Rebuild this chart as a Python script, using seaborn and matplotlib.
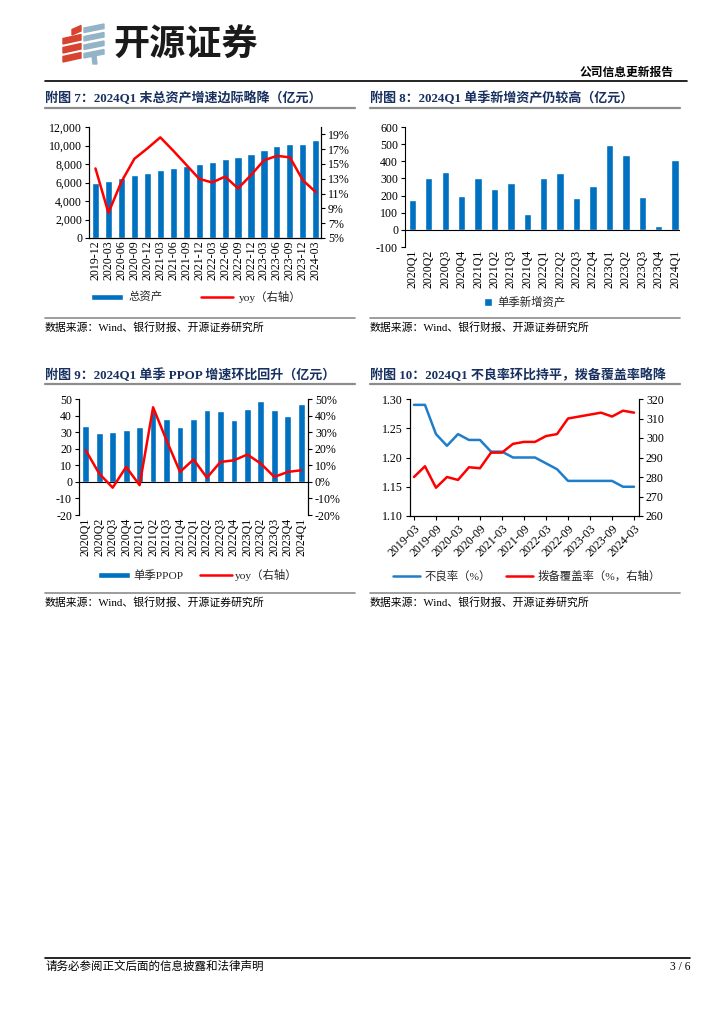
import numpy as np
import pandas as pd
import matplotlib
matplotlib.use("Agg")
import matplotlib.pyplot as plt
from matplotlib.lines import Line2D
from matplotlib.patches import Patch, Polygon
from matplotlib.ticker import FuncFormatter, MultipleLocator
import seaborn as sns

# ---------------- data ----------------
asset_dates = ["2019-12", "2020-03", "2020-06", "2020-09", "2020-12", "2021-03",
               "2021-06", "2021-09", "2021-12", "2022-03", "2022-06", "2022-09",
               "2022-12", "2023-03", "2023-06", "2023-09", "2023-12", "2024-03"]
total_assets = [6000, 6150, 6480, 6820, 7000, 7320, 7560, 7820, 7950, 8200,
                8580, 8780, 9050, 9550, 9950, 10150, 10200, 10580]
asset_yoy = [14.4, 8.4, 12.6, 15.7, 17.1, 18.6, 16.8, 14.9, 13.0, 12.5,
             13.3, 11.7, 13.5, 15.5, 16.1, 15.9, 12.8, 11.2]

quarters = ["2020Q1", "2020Q2", "2020Q3", "2020Q4", "2021Q1", "2021Q2", "2021Q3",
            "2021Q4", "2022Q1", "2022Q2", "2022Q3", "2022Q4", "2023Q1", "2023Q2",
            "2023Q3", "2023Q4", "2024Q1"]
new_assets = [175, 305, 338, 200, 305, 240, 272, 93, 302, 333, 185, 258,
              495, 438, 192, 22, 410]

ppop = [34, 29.5, 30, 31, 33.3, 43, 38, 33, 38, 43.5, 42.5, 37.5,
        44, 48.5, 43.5, 39.5, 47]
ppop_yoy = [19, 5, -3.5, 9, -2, 45, 25, 6, 13.5, 2.5, 12, 13,
            16.5, 11, 3, 6, 7]

npl_dates = ["2019-03", "2019-06", "2019-09", "2019-12", "2020-03", "2020-06",
             "2020-09", "2020-12", "2021-03", "2021-06", "2021-09", "2021-12",
             "2022-03", "2022-06", "2022-09", "2022-12", "2023-03", "2023-06",
             "2023-09", "2023-12", "2024-03"]
npl_ratio = [1.29, 1.29, 1.24, 1.22, 1.24, 1.23, 1.23, 1.21, 1.21, 1.20, 1.20,
             1.20, 1.19, 1.18, 1.16, 1.16, 1.16, 1.16, 1.16, 1.15, 1.15]
coverage = [280, 285.5, 274.5, 280, 278.5, 285, 284.5, 292.5, 292.5, 297, 298,
            298, 301, 302, 310, 311, 312, 313, 311, 314, 313]

# ---------------- style ----------------
BLUE = "#0070C0"
RED = "#FF0000"
LBLUE = "#1F7DC9"
NAVY = "#17305F"
GRAY = "#8C8C8C"

sns.set_theme(style="ticks")
plt.rcParams["font.family"] = ["Liberation Serif", "Noto Sans CJK SC"]
plt.rcParams["axes.linewidth"] = 0.8
plt.rcParams["xtick.major.width"] = 0.8
plt.rcParams["ytick.major.width"] = 0.8
plt.rcParams["axes.unicode_minus"] = False

W, H = 724, 1024
TICK_FS = 8.6
LEG_FS = 8.2
TITLE_FS = 9.4
fig = plt.figure(figsize=(W / 100, H / 100), dpi=100)


def fx(x):
    return x / W


def fy(y):
    return 1 - y / H


def rect(x0, y0, x1, y1):
    # pixel box (top-left origin) -> figure fraction
    return [fx(x0), fy(y1), fx(x1 - x0), (y1 - y0) / H]


def hline(x0, x1, y, color, lw):
    fig.add_artist(Line2D([fx(x0), fx(x1)], [fy(y), fy(y)], color=color, lw=lw,
                          transform=fig.transFigure))


def style_axis(ax):
    ax.tick_params(axis="both", labelsize=TICK_FS, colors="black", length=3, pad=2)
    for s in ax.spines.values():
        s.set_color("black")
    ax.set_xlabel("")
    ax.set_ylabel("")


def panel_frame(x0, x1, y_title, y_under, y_sep, title):
    fig.text(fx(x0), fy(y_title), title, fontsize=TITLE_FS, fontweight="bold", color=NAVY,
             va="center", ha="left")
    hline(x0, x1, y_under, GRAY, 1.6)
    hline(x0, x1, y_sep, GRAY, 1.2)
    fig.text(fx(x0), fy(y_sep + 9), "数据来源：Wind、银行财报、开源证券研究所",
             fontsize=7.8, color="black", va="center", ha="left")


# ---------------- header ----------------
for i in range(4):
    yb = 62 - i * 9
    x_left = 63 if i < 3 else 72
    poly = [(x_left, yb), (81, yb - 4), (81, yb - 9.5), (x_left, yb - 5.5)]
    fig.add_artist(Polygon([(fx(a), fy(b)) for a, b in poly], closed=True,
                           color="#D8432F", transform=fig.transFigure))
for i in range(4):
    yb = 58 - i * 8.5
    poly = [(84, yb), (104, yb - 4), (104, yb - 8.5), (84, yb - 4.5)]
    fig.add_artist(Polygon([(fx(a), fy(b)) for a, b in poly], closed=True,
                           color="#93B3C7", transform=fig.transFigure))
fig.add_artist(Polygon([(fx(a), fy(b)) for a, b in [(92, 56), (96, 56), (97, 64), (93, 64)]],
                       closed=True, color="#93B3C7", transform=fig.transFigure))
fig.text(fx(113), fy(45), "开源证券", fontsize=26, fontweight="bold", color="#1A1A1A",
         family=["Noto Sans CJK SC"], va="center", ha="left")
fig.text(fx(674), fy(73), "公司信息更新报告", fontsize=8.5, fontweight="bold",
         color="black", va="center", ha="right")
hline(45, 687, 81, "black", 1.2)

# ---------------- chart 7 ----------------
panel_frame(45, 355, 98, 108, 318, "附图 7：2024Q1 末总资产增速边际略降（亿元）")
df7 = pd.DataFrame({"date": asset_dates, "assets": total_assets, "yoy": asset_yoy})
ax = fig.add_axes(rect(89, 127, 321, 238))
sns.barplot(data=df7, x="date", y="assets", color=BLUE, saturation=1, width=0.55, ax=ax)
ax2 = ax.twinx()
sns.lineplot(x=np.arange(len(df7)), y=df7["yoy"].values, color=RED, lw=1.8, ax=ax2)
ax.set_xlim(-0.5, len(df7) - 0.6)
ax.set_ylim(0, 12000)
ax.yaxis.set_major_locator(MultipleLocator(2000))
ax.yaxis.set_major_formatter(FuncFormatter(lambda v, p: f"{v:,.0f}"))
ax2.set_ylim(5, 20)
ax2.set_yticks(np.arange(5, 20, 2))
ax2.yaxis.set_major_formatter(FuncFormatter(lambda v, p: f"{v:.0f}%"))
for a in (ax, ax2):
    style_axis(a)
    a.spines["top"].set_visible(False)
ax.tick_params(axis="x", length=0, rotation=90)
fig.legend([Patch(facecolor=BLUE), Line2D([], [], color=RED, lw=1.8)],
           ["总资产", "yoy（右轴）"], loc="center", bbox_to_anchor=(fx(196), fy(297)),
           ncol=2, frameon=False, fontsize=LEG_FS, handlelength=2.8, handleheight=0.55,
           columnspacing=3.4, handletextpad=0.5)

# ---------------- chart 8 ----------------
panel_frame(370, 680, 98, 108, 318, "附图 8：2024Q1 单季新增资产仍较高（亿元）")
df8 = pd.DataFrame({"quarter": quarters, "new": new_assets})
ax = fig.add_axes(rect(405, 127, 680, 247))
sns.barplot(data=df8, x="quarter", y="new", color=BLUE, saturation=1, width=0.45, ax=ax)
ax.set_xlim(-0.45, len(df8) - 0.7)
ax.set_ylim(-100, 600)
ax.yaxis.set_major_locator(MultipleLocator(100))
style_axis(ax)
for s in ("top", "right", "bottom"):
    ax.spines[s].set_visible(False)
ax.axhline(0, color="black", lw=0.8)
ax.tick_params(axis="x", length=0, rotation=90)
fig.legend([Patch(facecolor=BLUE)], ["单季新增资产"], loc="center",
           bbox_to_anchor=(fx(525), fy(302)), frameon=False, fontsize=LEG_FS,
           handlelength=0.7, handleheight=0.7, handletextpad=0.5)

# ---------------- chart 9 ----------------
panel_frame(45, 355, 375, 384, 593, "附图 9：2024Q1 单季 PPOP 增速环比回升（亿元）")
df9 = pd.DataFrame({"quarter": quarters, "ppop": ppop, "yoy": ppop_yoy})
ax = fig.add_axes(rect(79, 399, 308, 515))
sns.barplot(data=df9, x="quarter", y="ppop", color=BLUE, saturation=1, width=0.5, ax=ax)
ax2 = ax.twinx()
sns.lineplot(x=np.arange(len(df9)), y=df9["yoy"].values, color=RED, lw=1.8, ax=ax2)
ax.set_xlim(-0.5, len(df9) - 0.5)
ax.set_ylim(-20, 50)
ax.yaxis.set_major_locator(MultipleLocator(10))
ax2.set_ylim(-20, 50)
ax2.yaxis.set_major_locator(MultipleLocator(10))
ax2.yaxis.set_major_formatter(FuncFormatter(lambda v, p: f"{v:.0f}%"))
for a in (ax, ax2):
    style_axis(a)
    a.spines["top"].set_visible(False)
    a.spines["bottom"].set_visible(False)
ax.axhline(0, color="black", lw=0.8)
ax.tick_params(axis="x", length=0, rotation=90)
fig.legend([Patch(facecolor=BLUE), Line2D([], [], color=RED, lw=1.8)],
           ["单季PPOP", "yoy（右轴）"], loc="center", bbox_to_anchor=(fx(198), fy(575)),
           ncol=2, frameon=False, fontsize=LEG_FS, handlelength=2.8, handleheight=0.55,
           columnspacing=1.4, handletextpad=0.3)

# ---------------- chart 10 ----------------
panel_frame(370, 680, 375, 384, 593, "附图 10：2024Q1 不良率环比持平，拨备覆盖率略降")
df10 = pd.DataFrame({"date": npl_dates, "npl": npl_ratio, "cov": coverage})
xpos = np.arange(len(df10))
ax = fig.add_axes(rect(410, 399, 639, 516))
sns.lineplot(x=xpos, y=df10["npl"].values, color=LBLUE, lw=1.8, ax=ax)
ax2 = ax.twinx()
sns.lineplot(x=xpos, y=df10["cov"].values, color=RED, lw=1.8, ax=ax2)
ax.set_xlim(-0.36, len(df10) - 0.55)
ax.set_ylim(1.10, 1.30)
ax.yaxis.set_major_locator(MultipleLocator(0.05))
ax.yaxis.set_major_formatter(FuncFormatter(lambda v, p: f"{v:.2f}"))
ax2.set_ylim(260, 320)
ax2.yaxis.set_major_locator(MultipleLocator(10))
ax.set_xticks(xpos[::2])
ax.set_xticklabels(df10["date"].values[::2])
for a in (ax, ax2):
    style_axis(a)
    a.spines["top"].set_visible(False)
plt.setp(ax.get_xticklabels(), rotation=45, ha="right", rotation_mode="anchor")
fig.legend([Line2D([], [], color=LBLUE, lw=1.8), Line2D([], [], color=RED, lw=1.8)],
           ["不良率（%）", "拨备覆盖率（%，右轴）"], loc="center",
           bbox_to_anchor=(fx(527), fy(576)), ncol=2, frameon=False, fontsize=LEG_FS,
           handlelength=2.4, columnspacing=1.3, handletextpad=0.4)

# ---------------- footer ----------------
hline(45, 690, 958, "black", 1.2)
fig.text(fx(45), fy(967), "请务必参阅正文后面的信息披露和法律声明", fontsize=8.3,
         color="black", va="center", ha="left")
fig.text(fx(690), fy(967), "3 / 6", fontsize=8.3, color="black", va="center", ha="right")

fig.savefig("out.png", dpi=100)
